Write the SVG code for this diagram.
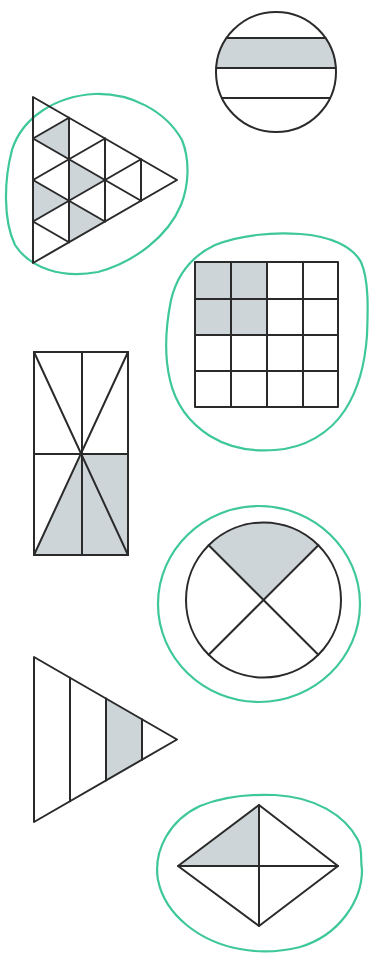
<svg xmlns="http://www.w3.org/2000/svg" width="387" height="955" viewBox="0 0 387 955">
<style>
.ln{fill:none;stroke:#2a2a2a;stroke-width:2;stroke-linejoin:round;stroke-linecap:round}
.sh{fill:#cdd5d9;stroke:none}
.gr{fill:none;stroke:#3ec79b;stroke-width:2.2;stroke-linejoin:round}
</style>
<rect width="387" height="955" fill="#ffffff"/>
<g id="circle-bands">
<path class="sh" d="M226.6,38 L325.4,38 A60,60 0 0 1 335.9,68 L216.1,68 A60,60 0 0 1 226.6,38 Z"/>
<circle class="ln" cx="276" cy="72" r="60"/>
<line class="ln" x1="226.6" y1="38" x2="325.4" y2="38"/>
<line class="ln" x1="216.1" y1="68" x2="335.9" y2="68"/>
<line class="ln" x1="221.9" y1="98" x2="330.1" y2="98"/>
</g>
<g id="triangle-grid">
<path class="gr" d="M95,94 C130,93 165,110 182,140 C190,160 189,185 181,205 C168,236 135,262 98,272 C62,279 30,268 15,245 C3,220 4,180 12,150 C22,118 55,96 95,94 Z"/>
<polygon class="sh" points="33,138.5 69,117.75 69,159.25"/>
<polygon class="sh" points="69,159.25 69,200.75 105,180"/>
<polygon class="sh" points="33,180 33,221.5 69,200.75"/>
<polygon class="sh" points="69,200.75 69,242.25 105,221.5"/>
<polygon class="ln" points="33,97 33,263 177,180"/>
<line class="ln" x1="69" y1="117.75" x2="69" y2="242.25"/>
<line class="ln" x1="105" y1="138.5" x2="105" y2="221.5"/>
<line class="ln" x1="141" y1="159.25" x2="141" y2="200.75"/>
<line class="ln" x1="33" y1="138.5" x2="141" y2="200.75"/>
<line class="ln" x1="33" y1="180" x2="105" y2="221.5"/>
<line class="ln" x1="33" y1="221.5" x2="69" y2="242.25"/>
<line class="ln" x1="33" y1="221.5" x2="141" y2="159.25"/>
<line class="ln" x1="33" y1="180" x2="105" y2="138.5"/>
<line class="ln" x1="33" y1="138.5" x2="69" y2="117.75"/>
</g>
<g id="square-grid">
<path class="gr" d="M300,234 C330,236 352,246 361,262 C369,280 368,310 367,335 C365,365 358,390 345,410 C330,433 305,448 275,450 C250,452 228,447 210,436 C188,422 175,402 170,380 C164,355 166,325 171,300 C177,275 192,256 215,245 C240,235 272,232 300,234 Z"/>
<rect class="sh" x="195" y="262" width="72" height="73"/>
<rect class="ln" x="195" y="262" width="143" height="145"/>
<line class="ln" x1="231" y1="262" x2="231" y2="407"/>
<line class="ln" x1="267" y1="262" x2="267" y2="407"/>
<line class="ln" x1="303" y1="262" x2="303" y2="407"/>
<line class="ln" x1="195" y1="299" x2="338" y2="299"/>
<line class="ln" x1="195" y1="335" x2="338" y2="335"/>
<line class="ln" x1="195" y1="371" x2="338" y2="371"/>
</g>
<g id="rectangle-star">
<polygon class="sh" points="82,454 128,454 128,555 34,555"/>
<rect class="ln" x="34" y="352" width="94" height="203"/>
<line class="ln" x1="82" y1="352" x2="82" y2="555"/>
<line class="ln" x1="34" y1="454" x2="128" y2="454"/>
<line class="ln" x1="34" y1="352" x2="128" y2="555"/>
<line class="ln" x1="128" y1="352" x2="34" y2="555"/>
</g>
<g id="circle-x">
<path class="gr" d="M259,506 C314.5,506 360,550 360,604 C360,658 314.5,702 259,702 C203.5,702 158,658 158,604 C158,550 203.5,506 259,506 Z"/>
<path class="sh" d="M263.5,600 L208.5,545 A77.5,77.5 0 0 1 318.5,545 Z"/>
<circle class="ln" cx="263.5" cy="600" r="77.5"/>
<line class="ln" x1="208.7" y1="545.2" x2="318.3" y2="654.8"/>
<line class="ln" x1="318.3" y1="545.2" x2="208.7" y2="654.8"/>
</g>
<g id="triangle-stripes">
<polygon class="sh" points="106,698.5 142,719.3 142,759.7 106,780.5"/>
<polygon class="ln" points="34,657 34,822 177,739.5"/>
<line class="ln" x1="70" y1="677.8" x2="70" y2="801.2"/>
<line class="ln" x1="106" y1="698.5" x2="106" y2="780.5"/>
<line class="ln" x1="142" y1="719.3" x2="142" y2="759.7"/>
</g>
<g id="diamond">
<path class="gr" d="M275,795 C315,797 345,815 358,840 C363,850 360,858 362,870 C362,900 340,935 300,947 C280,952 260,953 240,949 C200,942 165,915 158,880 C153,850 170,820 200,806 C222,797 250,794 275,795 Z"/>
<polygon class="sh" points="178,866 259,805 259,866"/>
<polygon class="ln" points="178,866 259,805 338,866 259,926"/>
<line class="ln" x1="259" y1="805" x2="259" y2="926"/>
<line class="ln" x1="178" y1="866" x2="338" y2="866"/>
</g>
</svg>
